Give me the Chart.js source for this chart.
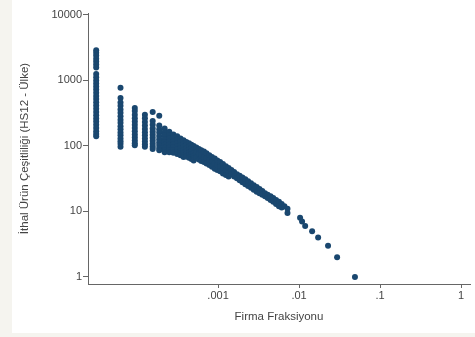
<!DOCTYPE html>
<html>
<head>
<meta charset="utf-8">
<script src="https://cdn.jsdelivr.net/npm/chart.js@4.4.0/dist/chart.umd.min.js"></script>
<style>
  body { margin: 0; background: #f5f4ef; }
  #wrap { width: 475px; height: 337px; }
</style>
</head>
<body>
<div id="wrap"><canvas id="firmChart" width="475" height="337"></canvas></div>
<script>
// first firm counts: one column per fraction (k firms out of ~32000)
const columnFractions = [3.13e-5, 6.25e-5, 9.38e-5, 1.25e-4, 1.56e-4, 1.88e-4, 2.19e-4, 2.5e-4,
    2.81e-4, 3.13e-4, 3.44e-4, 3.75e-4, 4.06e-4, 4.38e-4, 4.69e-4, 5.0e-4];
const columnVarieties = [
    [2900, 2650, 2400, 2150, 1950, 1750, 1580, 1250, 1120, 1000, 900, 810, 730, 650, 580, 520, 465, 415, 370, 330, 295, 262, 235, 210, 188, 168, 152, 140],
    [770, 540, 460, 410, 360, 320, 285, 250, 225, 200, 180, 160, 145, 130, 118, 108, 97],
    [380, 340, 300, 265, 235, 210, 188, 168, 150, 135, 121, 110, 102],
    [300, 265, 232, 205, 182, 162, 145, 130, 117, 106, 97],
    [330, 240, 210, 185, 165, 148, 133, 120, 108, 98, 90],
    [290, 205, 180, 160, 142, 127, 114, 103, 93, 86],
    [185, 162, 144, 128, 115, 104, 94, 86, 80],
    [165, 146, 130, 116, 104, 94, 86, 80],
    [150, 133, 118, 106, 96, 87, 79],
    [140, 124, 110, 99, 89, 81, 75],
    [130, 116, 103, 93, 84, 77, 72],
    [122, 108, 97, 87, 79, 72, 68],
    [115, 102, 91, 82, 75, 69],
    [110, 97, 87, 79, 72, 66],
    [104, 92, 83, 75, 68, 63],
    [100, 88, 79, 71, 65, 60]
];

// middle band
const bandFractions = [5.4e-4, 5.8e-4, 6.2e-4, 6.7e-4, 7.2e-4, 7.8e-4, 8.4e-4, 9.1e-4, 9.8e-4,
    1.06e-3, 1.15e-3, 1.25e-3, 1.35e-3, 1.46e-3, 1.58e-3, 1.71e-3, 1.85e-3, 2.0e-3, 2.17e-3,
    2.35e-3, 2.55e-3, 2.76e-3, 3.0e-3, 3.25e-3, 3.52e-3, 3.8e-3, 4.1e-3, 4.45e-3, 4.8e-3,
    5.2e-3, 5.65e-3, 6.1e-3, 6.6e-3, 7.2e-3];
const bandVarieties = [
    [95, 80, 66], [90, 76, 62], [86, 72, 59], [82, 68, 57], [77, 65, 54], [72, 61, 51],
    [68, 58, 48], [64, 54, 45], [60, 51, 43], [57, 48, 41], [53, 45, 38], [49, 42, 36],
    [46, 39, 34], [43, 37], [40, 34], [37, 32], [35, 30], [33, 28], [31, 26], [29, 24.5],
    [27, 23], [25, 21.5], [23.5, 20], [22, 19], [20.5, 18], [19, 17], [18, 16], [17, 15],
    [16, 14], [15, 13], [14, 12], [13, 11.5], [12], [11, 9.5]
];

// largest products, one point each
const tailFractions = [0.0103, 0.0109, 0.0119, 0.0145, 0.0172, 0.0228, 0.0295, 0.049];
const tailVarieties = [8, 7, 6, 5, 4, 3, 2, 1];

const xTicks = [0.001, 0.01, 0.1, 1];
const xTickLabels = [".001", ".01", ".1", "1"];
const yTicks = [1, 10, 100, 1000, 10000];
const yTickLabels = ["1", "10", "100", "1000", "10000"];

const points = [];
const addGroups = (xs, ys) => xs.forEach((x, i) => ys[i].forEach(y => points.push({x, y})));
addGroups(columnFractions, columnVarieties);
addGroups(bandFractions, bandVarieties);
tailFractions.forEach((x, i) => points.push({x, y: tailVarieties[i]}));

// gray outer band on the left and bottom, white everywhere else
const background = {
    id: "background",
    beforeDraw(chart) {
        const c = chart.ctx;
        c.save();
        c.fillStyle = "#f5f4ef";
        c.fillRect(0, 0, chart.width, chart.height);
        c.fillStyle = "#ffffff";
        c.fillRect(12, 0, chart.width - 12, 333);
        c.restore();
    }
};

const axisColor = "#666666";
const textColor = "#444444";
const fontFamily = "'Liberation Sans', Arial, sans-serif";

new Chart(document.getElementById("firmChart"), {
    type: "scatter",
    data: {
        datasets: [{
            data: points,
            backgroundColor: "#1a476f",
            borderWidth: 0,
            pointRadius: 3
        }]
    },
    options: {
        responsive: false,
        animation: false,
        layout: {padding: {left: 12, top: 13, right: 5, bottom: 4}},
        plugins: {legend: {display: false}, tooltip: {enabled: false}},
        scales: {
            x: {
                type: "logarithmic",
                min: 2.48e-5,
                max: 1.29,
                afterBuildTicks: s => { s.ticks = xTicks.map(v => ({value: v})); },
                afterFit: s => { s.height = 49; },
                ticks: {
                    callback: v => xTickLabels[xTicks.indexOf(v)],
                    color: textColor,
                    font: {family: fontFamily, size: 11},
                    padding: 1,
                    maxRotation: 0,
                    autoSkip: false
                },
                grid: {drawOnChartArea: false, tickLength: 4, color: axisColor},
                border: {color: axisColor, width: 1},
                title: {
                    display: true,
                    text: "Firma Fraksiyonu",
                    color: textColor,
                    font: {family: fontFamily, size: 11.5},
                    padding: {top: 0, bottom: 9}
                }
            },
            y: {
                type: "logarithmic",
                min: 0.78,
                max: 10700,
                afterBuildTicks: s => { s.ticks = yTicks.map(v => ({value: v})); },
                afterFit: s => { s.width = 76; },
                ticks: {
                    callback: v => yTickLabels[yTicks.indexOf(v)],
                    color: textColor,
                    font: {family: fontFamily, size: 11},
                    padding: 1,
                    autoSkip: false
                },
                grid: {drawOnChartArea: false, tickLength: 5, color: axisColor},
                border: {color: axisColor, width: 1},
                title: {
                    display: true,
                    text: "İthal Ürün Çeşitliliği (HS12 - Ülke)",
                    color: textColor,
                    font: {family: fontFamily, size: 11.5},
                    padding: {top: 6, bottom: 0}
                }
            }
        }
    },
    plugins: [background]
});
</script>
</body>
</html>
